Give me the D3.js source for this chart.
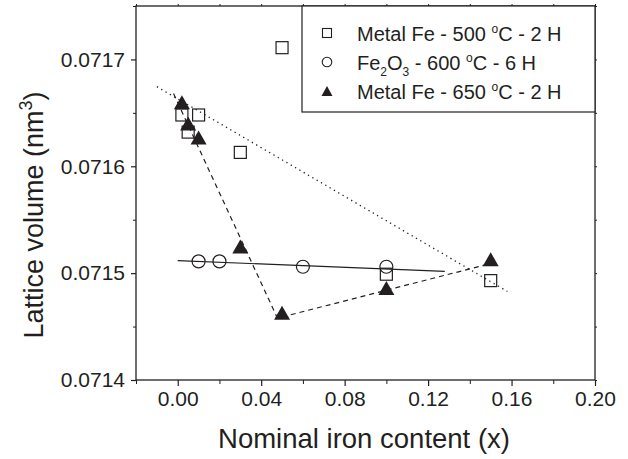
<!DOCTYPE html>
<html>
<head>
<meta charset="utf-8">
<script src="https://cdn.jsdelivr.net/npm/d3@7"></script>
<style>
  body { margin: 0; background: #fff; }
  svg { display: block; font-family: "Liberation Sans", Arial, sans-serif; }
  .axis path, .axis line { stroke: #231f20; }
  .axis text { fill: #231f20; }
</style>
</head>
<body>
<div id="chart"></div>
<script>
// Metal Fe - 500 C - 2 H (open squares)
const sqX = [0.002, 0.005, 0.01, 0.03, 0.05, 0.10, 0.15];
const sqY = [0.071648, 0.071632, 0.071648, 0.071613, 0.071711, 0.071499, 0.071493];
// Fe2O3 - 600 C - 6 H (open circles)
const circX = [0.01, 0.02, 0.06, 0.10];
const circY = [0.071511, 0.071511, 0.071506, 0.071506];
// Metal Fe - 650 C - 2 H (filled triangles)
const triX = [0.002, 0.005, 0.01, 0.03, 0.05, 0.10, 0.15];
const triY = [0.07166, 0.07164, 0.071627, 0.071525, 0.071463, 0.071486, 0.071513];

// fitted lines (end points)
const fitSqX = [-0.01, 0.158], fitSqY = [0.0716745, 0.0714829];
const fitCircX = [0.0, 0.128], fitCircY = [0.0715117, 0.0715017];
const fitTri1X = [-0.002, 0.048], fitTri1Y = [0.071668, 0.071457];
const fitTri2X = [0.05, 0.15], fitTri2Y = [0.071459, 0.071509];

const xTicks = [0, 0.04, 0.08, 0.12, 0.16, 0.20];
const xMinor = [-0.02, 0.02, 0.06, 0.10, 0.14, 0.18];
const yTicks = [0.0714, 0.0715, 0.0716, 0.0717];
const yMinor = [0.07145, 0.07155, 0.07165, 0.07175];

const legendLabels = [
  ["Metal Fe - 500 ", "o", "C - 2 H"],
  [" - 600 ", "o", "C - 6 H"],
  ["Metal Fe - 650 ", "o", "C - 2 H"]
];

const W = 628, H = 459;
const margin = { top: 6, right: 33, bottom: 79, left: 136 };
const ink = "#231f20";

const svg = d3.select("#chart").append("svg")
  .attr("width", W).attr("height", H);

const x = d3.scaleLinear().domain([-0.02, 0.20]).range([margin.left, W - margin.right]);
const y = d3.scaleLinear().domain([0.0714, 0.07175]).range([H - margin.bottom, margin.top]);

// frame
svg.append("rect")
  .attr("x", margin.left).attr("y", margin.top)
  .attr("width", W - margin.left - margin.right)
  .attr("height", H - margin.top - margin.bottom)
  .attr("fill", "none").attr("stroke", ink).attr("stroke-width", 1.3);

// bottom axis
const gx = svg.append("g").attr("class", "axis")
  .attr("transform", `translate(0,${H - margin.bottom})`)
  .call(d3.axisBottom(x).tickValues(xTicks).tickSize(6).tickPadding(5)
    .tickFormat(d3.format(".2f")));
gx.select(".domain").remove();
gx.selectAll("text").style("font-size", "21px");
gx.selectAll("line").attr("stroke-width", 1.2);
svg.append("g").attr("class", "axis")
  .attr("transform", `translate(0,${H - margin.bottom})`)
  .call(d3.axisBottom(x).tickValues(xMinor).tickSize(4).tickFormat(""))
  .call(g => g.select(".domain").remove());

// left axis
const gy = svg.append("g").attr("class", "axis")
  .attr("transform", `translate(${margin.left},0)`)
  .call(d3.axisLeft(y).tickValues(yTicks).tickSize(5).tickPadding(6)
    .tickFormat(d3.format(".4f")));
gy.select(".domain").remove();
gy.selectAll("text").style("font-size", "21px");
gy.selectAll("line").attr("stroke-width", 1.2);
svg.append("g").attr("class", "axis")
  .attr("transform", `translate(${margin.left},0)`)
  .call(d3.axisLeft(y).tickValues(yMinor).tickSize(3).tickFormat(""))
  .call(g => g.select(".domain").remove());

// mirrored top and right ticks
svg.append("g").attr("class", "axis")
  .attr("transform", `translate(0,${margin.top})`)
  .call(d3.axisTop(x).tickValues(xTicks.concat(xMinor)).tickSize(2).tickFormat(""))
  .call(g => g.select(".domain").remove());
svg.append("g").attr("class", "axis")
  .attr("transform", `translate(${W - margin.right},0)`)
  .call(d3.axisRight(y).tickValues(yTicks.concat(yMinor)).tickSize(2).tickFormat(""))
  .call(g => g.select(".domain").remove());

// axis titles
svg.append("text")
  .attr("x", 364)
  .attr("y", 448)
  .attr("text-anchor", "middle")
  .attr("fill", ink)
  .style("font-size", "27.5px")
  .text("Nominal iron content (x)");

const yt = svg.append("text")
  .attr("transform", `translate(43,${(margin.top + H - margin.bottom) / 2 + 22}) rotate(-90)`)
  .attr("text-anchor", "middle")
  .attr("fill", ink)
  .style("font-size", "27px");
yt.append("tspan").text("Lattice volume (nm");
yt.append("tspan").attr("dy", -11).style("font-size", "18px").text("3");
yt.append("tspan").attr("dy", 11).text(")");

// fit lines
const line = d3.line().x(d => x(d[0])).y(d => y(d[1]));
function drawFit(xs, ys, dash, width) {
  svg.append("path")
    .datum(xs.map((v, i) => [v, ys[i]]))
    .attr("d", line)
    .attr("fill", "none")
    .attr("stroke", ink)
    .attr("stroke-width", width)
    .attr("stroke-dasharray", dash);
}
drawFit(fitSqX, fitSqY, "1.3,3.7", 1.3);
drawFit(fitCircX, fitCircY, null, 1.2);
drawFit(fitTri1X, fitTri1Y, "5,4", 1.2);
drawFit(fitTri2X, fitTri2Y, "5,4", 1.2);

// markers
const tri = (w, h) => `M0,${-h / 2}L${w / 2},${h / 2}L${-w / 2},${h / 2}Z`;

svg.append("g").selectAll("rect")
  .data(sqX.map((v, i) => [v, sqY[i]]))
  .join("rect")
  .attr("x", d => x(d[0]) - 6).attr("y", d => y(d[1]) - 6)
  .attr("width", 12).attr("height", 12)
  .attr("fill", "none").attr("stroke", ink).attr("stroke-width", 1.2);

svg.append("g").selectAll("circle")
  .data(circX.map((v, i) => [v, circY[i]]))
  .join("circle")
  .attr("cx", d => x(d[0])).attr("cy", d => y(d[1]))
  .attr("r", 6.5)
  .attr("fill", "none").attr("stroke", ink).attr("stroke-width", 1.2);

svg.append("g").selectAll("path")
  .data(triX.map((v, i) => [v, triY[i]]))
  .join("path")
  .attr("transform", d => `translate(${x(d[0])},${y(d[1])})`)
  .attr("d", tri(16, 14))
  .attr("fill", ink);

// legend
const lg = svg.append("g");
lg.append("rect")
  .attr("x", 302).attr("y", margin.top)
  .attr("width", W - margin.right - 302).attr("height", 106)
  .attr("fill", "#fff").attr("stroke", ink).attr("stroke-width", 1.2);

const rowY = [33, 62, 91];
lg.append("rect").attr("x", 322.5).attr("y", rowY[0] - 4.5).attr("width", 9).attr("height", 9)
  .attr("fill", "none").attr("stroke", ink).attr("stroke-width", 1.1);
lg.append("circle").attr("cx", 327).attr("cy", rowY[1]).attr("r", 4.8)
  .attr("fill", "none").attr("stroke", ink).attr("stroke-width", 1.1);
lg.append("path").attr("transform", `translate(327,${rowY[2]})`).attr("d", tri(11, 10)).attr("fill", ink);

legendLabels.forEach((lab, i) => {
  const t = lg.append("text")
    .attr("x", 357).attr("y", rowY[i] + 7.5)
    .attr("fill", ink).style("font-size", "20px");
  if (i === 1) {
    t.append("tspan").text("Fe");
    t.append("tspan").attr("dy", 6).style("font-size", "12px").text("2");
    t.append("tspan").attr("dy", -6).text("O");
    t.append("tspan").attr("dy", 6).style("font-size", "12px").text("3");
    t.append("tspan").attr("dy", -6).text(lab[0]);
  } else {
    t.append("tspan").text(lab[0]);
  }
  t.append("tspan").attr("dy", -8).style("font-size", "12px").text(lab[1]);
  t.append("tspan").attr("dy", 8).text(lab[2]);
});
</script>
</body>
</html>
